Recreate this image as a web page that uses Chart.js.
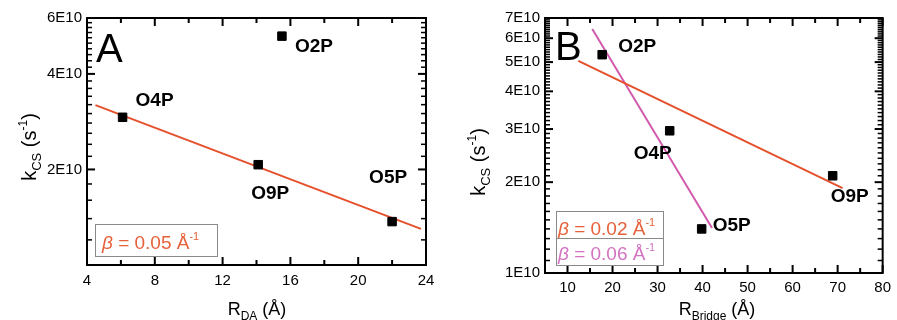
<!DOCTYPE html>
<html><head><meta charset="utf-8">
<script src="https://cdn.jsdelivr.net/npm/chart.js@4.4.1/dist/chart.umd.min.js"></script>
<style>
html,body{margin:0;padding:0;background:#fff;overflow:hidden;width:897px;height:320px;}
#ca{position:absolute;left:0;top:0;}
#cb{position:absolute;left:450px;top:0;}
</style></head><body>
<canvas id="ca" width="450" height="320"></canvas>
<canvas id="cb" width="447" height="320"></canvas>
<script>
// ---------- data: panel A ----------
const labelsA = ['O4P', 'O9P', 'O2P', 'O5P'];
const rdaA = [6.1, 14.1, 15.5, 22.0];
const kcsA = [2.92e10, 2.07e10, 5.26e10, 1.37e10];
const fitA_R = [4.5, 23.7];
const fitA_k = [3.19e10, 1.30e10];
const betaA = '0.05';
const xTicksA = [4, 8, 12, 16, 20, 24];
const yTicksA = [2e10, 4e10, 6e10];

// ---------- data: panel B ----------
const labelsB = ['O2P', 'O4P', 'O5P', 'O9P'];
const rbrB = [17.7, 32.7, 39.8, 68.9];
const kcsB = [5.29e10, 2.96e10, 1.40e10, 2.10e10];
const fitB1_R = [12.4, 71.1];
const fitB1_k = [5.05e10, 1.91e10];
const fitB2_R = [15.5, 42.1];
const fitB2_k = [6.44e10, 1.41e10];
const betaB1 = '0.02';
const betaB2 = '0.06';
const xTicksB = [10, 20, 30, 40, 50, 60, 70, 80];
const yTicksB = [1e10, 2e10, 3e10, 4e10, 5e10, 6e10, 7e10];

// ---------- styles ----------
const FAM = '"Liberation Sans", Arial, Helvetica, sans-serif';
const ORANGE = '#e5502c';
const MAGENTA = '#d15aad';
const ORANGE_TXT = '#e6603a';
const MAGENTA_TXT = '#d372c2';

function fmtE(v) { return (Math.round(v / 1e9) / 10) + 'E10'; }
function pts(xs, ys) { return xs.map((x, i) => ({ x: x, y: ys[i] })); }

function richText(ctx, x, y, parts, align) {
  let w = 0;
  parts.forEach(p => { ctx.font = p.f; p.w = ctx.measureText(p.t).width; w += p.w; });
  let cx = align === 'center' ? x - w / 2 : x;
  ctx.textBaseline = 'alphabetic';
  ctx.textAlign = 'left';
  parts.forEach(p => {
    ctx.font = p.f; ctx.fillStyle = p.c || '#000';
    ctx.fillText(p.t, cx, y + (p.dy || 0)); cx += p.w;
  });
}

function betaParts(val, col) {
  return [
    { t: 'β', f: 'italic 19px ' + FAM, c: col },
    { t: ' = ' + val + ' Å', f: '19px ' + FAM, c: col },
    { t: '-1', f: '11px ' + FAM, c: col, dy: -9 }
  ];
}

function makeDecor(o, id) {
  return {
    id: 'decor' + id,
    afterDraw(chart) {
      const ctx = chart.ctx, ca = chart.chartArea;
      const xs = chart.scales.x, ys = chart.scales.y;
      ctx.save();
      // point labels
      ctx.fillStyle = '#000';
      ctx.font = 'bold 19px ' + FAM;
      ctx.textAlign = 'left';
      ctx.textBaseline = 'middle';
      o.names.forEach((n, i) => {
        const px = xs.getPixelForValue(o.px[i]), py = ys.getPixelForValue(o.py[i]);
        ctx.fillText(n, px + o.off[i][0], py + o.off[i][1]);
      });
      // panel letter
      ctx.font = '40px ' + FAM;
      ctx.textBaseline = 'alphabetic';
      ctx.fillText(o.letter, o.letterPos[0], o.letterPos[1]);
      // legend boxes
      ctx.strokeStyle = '#8a8a8a';
      ctx.lineWidth = 1;
      o.legend.forEach(Lg => {
        ctx.strokeRect(Lg.box[0] + 0.5, Lg.box[1] + 0.5, Lg.box[2], Lg.box[3]);
        richText(ctx, Lg.tx, Lg.ty, betaParts(Lg.val, Lg.col), 'left');
      });
      // axis titles
      richText(ctx, o.xTitle[0], o.xTitle[1], o.xTitleParts, 'center');
      ctx.save();
      ctx.translate(o.yTitle[0], o.yTitle[1]);
      ctx.rotate(-Math.PI / 2);
      richText(ctx, 0, 0, [
        { t: 'k', f: '20px ' + FAM },
        { t: 'CS', f: '13px ' + FAM, dy: 5 },
        { t: ' (s', f: '20px ' + FAM },
        { t: '-1', f: '12px ' + FAM, dy: -9 },
        { t: ')', f: '20px ' + FAM }
      ], 'center');
      ctx.restore();
      ctx.restore();
    }
  };
}

function makeFrame(o, id) {
  return {
    id: 'frame' + id,
    afterDraw(chart) {
      const ctx = chart.ctx, ca = chart.chartArea;
      const xs = chart.scales.x, ys = chart.scales.y;
      const xMaj = o.xMajor.map(v => xs.getPixelForValue(v));
      const xMin = o.xMinor.map(v => xs.getPixelForValue(v));
      const yMaj = o.yMajor.map(v => ys.getPixelForValue(v));
      const yMin = o.yMinor.map(v => ys.getPixelForValue(v));
      ctx.save();
      ctx.fillStyle = '#000';
      xMaj.forEach(p => { ctx.fillRect(p - 1, ca.bottom - 8, 2, 8); ctx.fillRect(p - 1, ca.top, 2, 8); });
      xMin.forEach(p => { ctx.fillRect(p - 1, ca.bottom - 5, 2, 5); ctx.fillRect(p - 1, ca.top, 2, 5); });
      yMaj.forEach(p => { ctx.fillRect(ca.left, p - 1, 8, 2); ctx.fillRect(ca.right - 8, p - 1, 8, 2); });
      yMin.forEach(p => { ctx.fillRect(ca.left, p - 0.75, 5, 1.5); ctx.fillRect(ca.right - 5, p - 0.75, 5, 1.5); });
      ctx.strokeStyle = '#000';
      ctx.lineWidth = 2;
      ctx.strokeRect(ca.left, ca.top, ca.right - ca.left, ca.bottom - ca.top);
      ctx.restore();
    }
  };
}

function minorRange(from, to, step, skipEvery) {
  const out = [];
  for (let i = from; i <= to; i += step) { if (i % skipEvery !== 0) out.push(i); }
  return out;
}

function baseOptions(xmin, xmax, xt, ymin, ymax, yt, pad, xh, yw, xpad) {
  return {
    responsive: false, animation: false,
    layout: { padding: pad },
    plugins: { legend: { display: false }, tooltip: { enabled: false } },
    scales: {
      x: {
        type: 'linear', min: xmin, max: xmax,
        grid: { display: false, drawTicks: false }, border: { display: false },
        ticks: { font: { size: 15, family: FAM }, color: '#000', padding: xpad, maxRotation: 0, autoSkip: false },
        afterBuildTicks: s => { s.ticks = xt.map(v => ({ value: v })); },
        afterFit: s => { s.height = xh; }
      },
      y: {
        type: 'logarithmic', min: ymin, max: ymax,
        grid: { display: false, drawTicks: false }, border: { display: false },
        ticks: { font: { size: 15, family: FAM }, color: '#000', padding: 5, autoSkip: false, callback: v => fmtE(v) },
        afterBuildTicks: s => { s.ticks = yt.map(v => ({ value: v })); },
        afterFit: s => { s.width = yw; }
      }
    }
  };
}

const axA = {
  xMajor: xTicksA, xMinor: [6, 10, 14, 18, 22],
  yMajor: yTicksA, yMinor: minorRange(12, 58, 2, 20).map(i => i * 1e9)
};
const axB = {
  xMajor: xTicksB, xMinor: [15, 25, 35, 45, 55, 65, 75],
  yMajor: yTicksB, yMinor: minorRange(11, 69, 1, 10).map(i => i * 1e9)
};

// ---------- chart A ----------
new Chart(document.getElementById('ca'), {
  type: 'scatter',
  data: {
    datasets: [
      { data: pts(rdaA, kcsA), pointStyle: 'rect', pointRadius: 6, backgroundColor: '#000', borderColor: '#000', borderWidth: 1, order: 0 },
      { type: 'line', data: pts(fitA_R, fitA_k), borderColor: ORANGE, borderWidth: 2, pointRadius: 0, fill: false, order: 1 }
    ]
  },
  options: baseOptions(4, 24, xTicksA, 1e10, 6e10, yTicksA, { left: 0, top: 18, right: 24, bottom: 0 }, 55, 87, 7),
  plugins: [makeFrame(axA, 'A'), makeDecor({
    names: labelsA, px: rdaA, py: kcsA,
    off: [[13, -17], [-7, 29], [13, 11], [-23, -44]],
    letter: 'A', letterPos: [96, 62],
    legend: [{ box: [95, 224, 122, 32], tx: 102, ty: 249, val: betaA, col: ORANGE_TXT }],
    xTitle: [257, 315],
    xTitleParts: [
      { t: 'R', f: '18px ' + FAM },
      { t: 'DA', f: '12px ' + FAM, dy: 5 },
      { t: ' (Å)', f: '18px ' + FAM }
    ],
    yTitle: [36, 147]
  }, 'A')]
});

// ---------- chart B ----------
new Chart(document.getElementById('cb'), {
  type: 'scatter',
  data: {
    datasets: [
      { data: pts(rbrB, kcsB), pointStyle: 'rect', pointRadius: 6, backgroundColor: '#000', borderColor: '#000', borderWidth: 1, order: 0 },
      { type: 'line', data: pts(fitB1_R, fitB1_k), borderColor: ORANGE, borderWidth: 2, pointRadius: 0, fill: false, order: 1 },
      { type: 'line', data: pts(fitB2_R, fitB2_k), borderColor: MAGENTA, borderWidth: 2, pointRadius: 0, fill: false, order: 2 }
    ]
  },
  options: baseOptions(5, 80, xTicksB, 1e10, 7e10, yTicksB, { left: 0, top: 18, right: 10, bottom: 0 }, 47, 95, 6),
  plugins: [makeFrame(axB, 'B'), makeDecor({
    names: labelsB, px: rbrB, py: kcsB,
    off: [[16, -8], [-36, 23], [11, -3], [-2, 21]],
    letter: 'B', letterPos: [105, 60],
    legend: [
      { box: [106, 211, 107, 27], tx: 108, ty: 235, val: betaB1, col: ORANGE_TXT },
      { box: [106, 238, 107, 27], tx: 108, ty: 260, val: betaB2, col: MAGENTA_TXT }
    ],
    xTitle: [267, 315],
    xTitleParts: [
      { t: 'R', f: '18px ' + FAM },
      { t: 'Bridge', f: '12px ' + FAM, dy: 5 },
      { t: ' (Å)', f: '18px ' + FAM }
    ],
    yTitle: [35, 162]
  }, 'B')]
});
</script>
</body></html>
